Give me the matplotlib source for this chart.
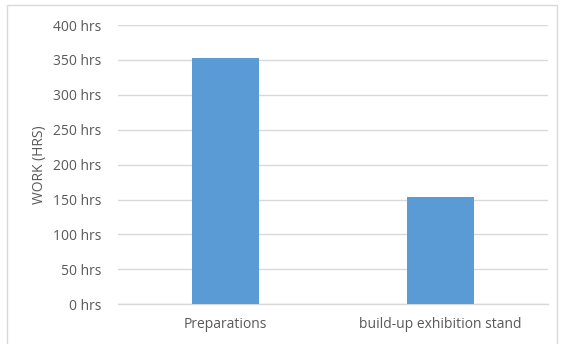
import matplotlib
matplotlib.use("Agg")
import matplotlib.pyplot as plt
from matplotlib.patches import Rectangle
from matplotlib.ticker import FuncFormatter

# hours of work per activity
activities = ["Preparations", "build-up exhibition stand"]
hours = [353, 153]
y_ticks = [0, 50, 100, 150, 200, 250, 300, 350, 400]

plt.rcParams['font.family'] = ['Open Sans', 'DejaVu Sans']
text_color = '#595959'
grid_color = '#D9D9D9'

fig = plt.figure(figsize=(5.62, 3.44), dpi=100)
ax = fig.add_axes([0.2093, 0.1154, 0.9750 - 0.2093, 0.9273 - 0.1154])

# light frame around the whole chart area
fig.patches.append(Rectangle((7 / 562, -0.05), (557 - 7) / 562, 1.05 - 5 / 344,
                             transform=fig.transFigure, fill=False,
                             edgecolor='#D9D9D9', linewidth=1.0))

x_pos = range(len(activities))
ax.bar(x_pos, hours, width=0.31, color='#5B9BD5', zorder=3)

ax.set_xlim(-0.5, 1.5)
ax.set_ylim(0, 400)
ax.set_yticks(y_ticks)
ax.yaxis.set_major_formatter(FuncFormatter(lambda v, p: f"{int(v)} hrs"))
ax.set_xticks(list(x_pos))
ax.set_xticklabels(activities)

ax.grid(axis='y', color=grid_color, linewidth=1.0, zorder=0)
for side in ['top', 'right', 'left']:
    ax.spines[side].set_visible(False)
ax.spines['bottom'].set_color(grid_color)
ax.spines['bottom'].set_linewidth(1.0)

ax.tick_params(axis='both', length=0, labelsize=10, labelcolor=text_color)
ax.tick_params(axis='y', pad=12)
ax.tick_params(axis='x', pad=9)

ax.set_ylabel('WORK (HRS)', fontsize=10, color=text_color, labelpad=4)

fig.savefig('out.png', dpi=100)
